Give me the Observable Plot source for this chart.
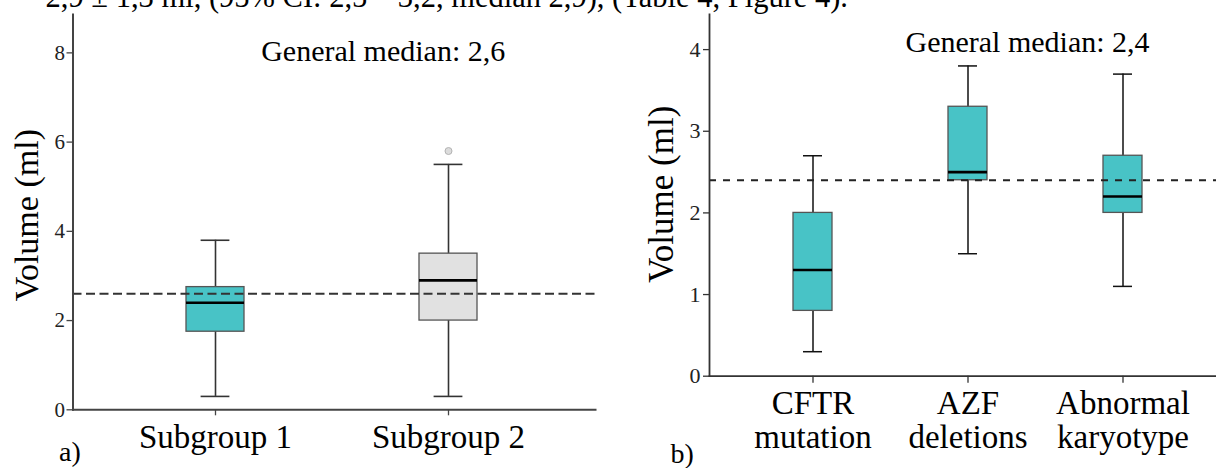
<!DOCTYPE html>
<html>
<head>
<meta charset="utf-8">
<script src="https://cdn.jsdelivr.net/npm/d3@7"></script>
<script src="https://cdn.jsdelivr.net/npm/@observablehq/plot@0.6"></script>
<style>
  html, body { margin: 0; padding: 0; background: #fff; }
  #page { position: relative; width: 1216px; height: 468px; overflow: hidden; background: #fff; font-family: "Liberation Serif", "Times New Roman", serif; }
  #panelA { position: absolute; left: 0; top: 0; }
  #panelB { position: absolute; left: 608px; top: 0; }
  #topline { position: absolute; left: 0; top: 0; }
  svg text { font-family: "Liberation Serif", "Times New Roman", serif; }
</style>
</head>
<body>
<div id="page">
  <svg id="topline" width="1216" height="20">
    <text id="toptext" x="848" y="7" text-anchor="end" font-family="Liberation Serif, serif" font-size="30.5" fill="#000"></text>
  </svg>
  <div id="panelA"></div>
  <div id="panelB"></div>
</div>
<script>
// ---------- Data: panel a ----------
const groupsA = ["Subgroup 1", "Subgroup 2"];
const lowA = [0.3, 0.3];
const q1A = [1.75, 2.0];
const medA = [2.4, 2.9];
const q3A = [2.75, 3.5];
const highA = [3.8, 5.5];
const outlierGroupsA = ["Subgroup 2"];
const outlierValuesA = [5.8];
const generalMedianA = 2.6;
const yTicksA = [0, 2, 4, 6, 8];

// ---------- Data: panel b ----------
const groupsB = ["CFTR mutation", "AZF deletions", "Abnormal karyotype"];
const tickLabelsB = ["CFTR\nmutation", "AZF\ndeletions", "Abnormal\nkaryotype"];
const lowB = [0.3, 1.5, 1.1];
const q1B = [0.8, 2.4, 2.0];
const medB = [1.3, 2.5, 2.2];
const q3B = [2.0, 3.3, 2.7];
const highB = [2.7, 3.8, 3.7];
const generalMedianB = 2.4;
const yTicksB = [0, 1, 2, 3, 4];

// ---------- Texts ----------
const topText = "2,9 ± 1,3 ml, (95% CI: 2,5 – 3,2, median 2,9), (Table 4, Figure 4).";
const yTitle = "Volume (ml)";
const medianTextA = "General median: 2,6";
const medianTextB = "General median: 2,4";
const panelLabelA = "a)";
const panelLabelB = "b)";

document.getElementById("toptext").textContent = topText;

// ---------- Styles ----------
const TEAL = "#48c3c6";
const LIGHT = "#e1e1e1";
const fillA = {"Subgroup 1": TEAL, "Subgroup 2": LIGHT};
const FONT = "Liberation Serif";

const tableA = groupsA.map((g, i) => ({group: g, low: lowA[i], q1: q1A[i], med: medA[i], q3: q3A[i], high: highA[i]}));
const outA = outlierGroupsA.map((g, i) => ({group: g, value: outlierValuesA[i]}));
const tableB = groupsB.map((g, i) => ({group: g, low: lowB[i], q1: q1B[i], med: medB[i], q3: q3B[i], high: highB[i]}));
const labelOfB = Object.fromEntries(groupsB.map((g, i) => [g, tickLabelsB[i]]));
const intFmt = d3.format("d");

// ---------- Panel a ----------
const chartA = Plot.plot({
  width: 600,
  height: 468,
  marginLeft: 72.5,
  marginRight: 5,
  marginTop: 14,
  marginBottom: 58.7,
  style: {fontFamily: FONT, background: "transparent", color: "#000", overflow: "visible"},
  x: {type: "band", domain: groupsA, range: [185.55, 477.55], paddingInner: 0.7495, paddingOuter: 0, label: null},
  y: {domain: [0, 8.86], label: null},
  color: {type: "identity"},
  marks: [
    Plot.ruleX(tableA, {x: "group", y1: "low", y2: "high", stroke: "#333", strokeWidth: 1.6}),
    Plot.tickY(tableA, {x: "group", y: "low", stroke: "#333", strokeWidth: 1.6, insetLeft: 14.6, insetRight: 14.6}),
    Plot.tickY(tableA, {x: "group", y: "high", stroke: "#333", strokeWidth: 1.6, insetLeft: 14.6, insetRight: 14.6}),
    Plot.barY(tableA, {x: "group", y1: "q1", y2: "q3", fill: d => fillA[d.group], stroke: "#555", strokeWidth: 1.3}),
    Plot.ruleY([generalMedianA], {stroke: "#333", strokeWidth: 2, strokeDasharray: "9,4.5"}),
    Plot.tickY(tableA, {x: "group", y: "med", stroke: "#000", strokeWidth: 2.6}),
    Plot.dot(outA, {x: "group", y: "value", r: 3.5, fill: "#dcdcdc", stroke: "#b3b3b3", strokeWidth: 1}),
    Plot.frame({anchor: "left", stroke: "#444", strokeWidth: 2}),
    Plot.frame({anchor: "bottom", stroke: "#444", strokeWidth: 2}),
    Plot.axisY({ticks: yTicksA, tickFormat: intFmt, tickSize: 6, tickPadding: 2, fontSize: 21, fontFamily: FONT, stroke: "#444", strokeWidth: 1.3, fill: "#222", label: null}),
    Plot.axisX({tickSize: 6, tickPadding: 8.6, fontSize: 33, fontFamily: FONT, stroke: "#444", strokeWidth: 1.3, fill: "#000", label: null}),
    Plot.text([yTitle], {text: d => d, frameAnchor: "left", rotate: -90, textAnchor: "middle", lineAnchor: "middle", dx: -45.5, dy: 3, fontSize: 34, fontFamily: FONT, fill: "#000"}),
    Plot.text([medianTextA], {text: d => d, frameAnchor: "top-left", textAnchor: "middle", lineAnchor: "bottom", dx: 310.2, dy: 46, fontSize: 30, fontFamily: FONT, fill: "#000"}),
    Plot.text([panelLabelA], {text: d => d, frameAnchor: "bottom-left", textAnchor: "start", lineAnchor: "bottom", dx: -14, dy: 51.5, fontSize: 28, fontFamily: FONT, fill: "#000"})
  ]
});
document.getElementById("panelA").append(chartA);

// ---------- Panel b ----------
const chartB = Plot.plot({
  width: 608,
  height: 468,
  marginLeft: 101,
  marginRight: 0,
  marginTop: 14,
  marginBottom: 92.3,
  style: {fontFamily: FONT, background: "transparent", color: "#000", overflow: "visible"},
  x: {type: "band", domain: groupsB, range: [184.9, 534.9], paddingInner: 0.7492, paddingOuter: 0, label: null},
  y: {domain: [0, 4.43], label: null},
  marks: [
    Plot.ruleX(tableB, {x: "group", y1: "low", y2: "high", stroke: "#111", strokeWidth: 1.5}),
    Plot.tickY(tableB, {x: "group", y: "low", stroke: "#111", strokeWidth: 1.5, insetLeft: 10, insetRight: 10}),
    Plot.tickY(tableB, {x: "group", y: "high", stroke: "#111", strokeWidth: 1.5, insetLeft: 10, insetRight: 10}),
    Plot.barY(tableB, {x: "group", y1: "q1", y2: "q3", fill: TEAL, stroke: "#555", strokeWidth: 1.3}),
    Plot.ruleY([generalMedianB], {stroke: "#222", strokeWidth: 1.8, strokeDasharray: "7,7"}),
    Plot.tickY(tableB, {x: "group", y: "med", stroke: "#000", strokeWidth: 2.6}),
    Plot.frame({anchor: "left", stroke: "#333", strokeWidth: 1.8}),
    Plot.frame({anchor: "bottom", stroke: "#333", strokeWidth: 1.8}),
    Plot.axisY({ticks: yTicksB, tickFormat: intFmt, tickSize: 6, tickPadding: 3, fontSize: 22, fontFamily: FONT, stroke: "#333", strokeWidth: 1.3, fill: "#222", label: null}),
    Plot.axisX({tickSize: 7, tickPadding: 7, fontSize: 33, fontFamily: FONT, lineHeight: 1.03, stroke: "#333", strokeWidth: 1.3, fill: "#000", label: null, tickFormat: d => labelOfB[d]}),
    Plot.text([yTitle], {text: d => d, frameAnchor: "left", rotate: -90, textAnchor: "middle", lineAnchor: "middle", dx: -47.5, dy: -1, fontSize: 35, fontFamily: FONT, fill: "#000"}),
    Plot.text([medianTextB], {text: d => d, frameAnchor: "top-left", textAnchor: "middle", lineAnchor: "bottom", dx: 318, dy: 37.7, fontSize: 30, fontFamily: FONT, fill: "#000"}),
    Plot.text([panelLabelB], {text: d => d, frameAnchor: "bottom-left", textAnchor: "start", lineAnchor: "bottom", dx: -39, dy: 86.5, fontSize: 28, fontFamily: FONT, fill: "#000"})
  ]
});
document.getElementById("panelB").append(chartB);
</script>
</body>
</html>
